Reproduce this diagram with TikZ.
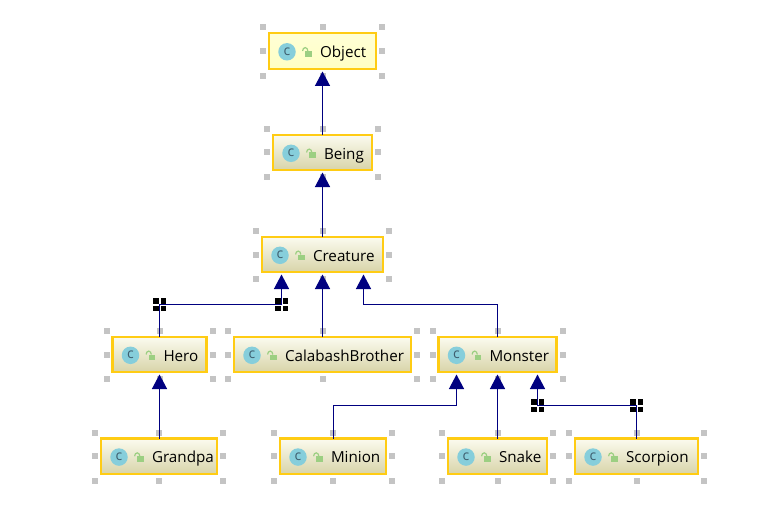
\documentclass[tikz,border=0pt]{standalone}
\usepackage{fontspec}
\setmainfont{Open Sans}
\usetikzlibrary{arrows.meta,calc}
\definecolor{edgeblue}{HTML}{000080}
\definecolor{boxedge}{HTML}{FFCC14}
\definecolor{gripgray}{HTML}{C4C4C4}
\definecolor{ciconfill}{HTML}{86CEDB}
\definecolor{ciconink}{HTML}{3F5F6F}
\definecolor{lockgreen}{HTML}{9CCF82}
\definecolor{umltop}{HTML}{FBFBEF}
\definecolor{umlbot}{HTML}{D8D4A9}
\definecolor{seltop}{HTML}{FFFFD6}
\definecolor{selbot}{HTML}{FFFFC4}
\tikzset{
  x=1pt,y=-1pt,
  plainbox/.style={draw=boxedge,line width=2.6pt,inner sep=0pt,outer sep=0pt,anchor=north west,top color=umltop,bottom color=umlbot},
  selbox/.style={draw=boxedge,line width=2.6pt,inner sep=0pt,outer sep=0pt,anchor=north west,top color=seltop,bottom color=selbot},
  nametext/.style={anchor=base west,inner sep=0pt,font=\fontsize{15.2}{15.2}\selectfont,text=black},
  cicon/.style={circle,fill=ciconfill,minimum size=17.5pt,inner sep=0pt,text=ciconink,font=\fontsize{14}{14}\selectfont},
  inherit/.style={draw=edgeblue,line width=1.3pt,-{Triangle[width=15pt,length=14.5pt,fill=edgeblue]}},
  grip/.style={fill=gripgray},
  blackgrip/.style={fill=black},
}
% name, left, top, right, bottom, text, style
\newcommand{\umlclass}[7]{%
  \fill[grip] (#2-9,#3-9) rectangle ++(6,6);
  \fill[grip] ({(#2+#4)/2-3},#3-9) rectangle ++(6,6);
  \fill[grip] (#4+3,#3-9) rectangle ++(6,6);
  \fill[grip] (#2-9,{(#3+#5)/2-3}) rectangle ++(6,6);
  \fill[grip] (#4+3,{(#3+#5)/2-3}) rectangle ++(6,6);
  \fill[grip] (#2-9,#5+4) rectangle ++(6,6);
  \fill[grip] ({(#2+#4)/2-3},#5+4) rectangle ++(6,6);
  \fill[grip] (#4+3,#5+4) rectangle ++(6,6);
  \node[#7,minimum width=#4-#2 pt,minimum height=#5-#3 pt] (#1) at (#2,#3) {};
  \node[cicon] (#1icon) at (#2+18,{(#3+#5)/2+0.8}) {\raisebox{1pt}{c}};
  \begin{scope}[shift={(#2+38,{(#3+#5)/2+0.5})}]
    \draw[lockgreen,line width=1.2pt] (-4.4,-0.5) arc[start angle=180,end angle=0,x radius=2.6,y radius=-3.4];
    \fill[lockgreen] (-2,-0.5) rectangle (4.6,5.2);
  \end{scope}
  \node[nametext] (#1name) at (#2+50.8,{(#3+#5)/2+6.6}) {#6};
}
% four black grips around a bend
\newcommand{\bendgrips}[1]{%
  \fill[blackgrip] ($(#1)+(-6.5,-6.5)$) rectangle ++(5.5,5.5);
  \fill[blackgrip] ($(#1)+(1,-6.5)$) rectangle ++(5.5,5.5);
  \fill[blackgrip] ($(#1)+(-6.5,1)$) rectangle ++(5.5,5.5);
  \fill[blackgrip] ($(#1)+(1,1)$) rectangle ++(5.5,5.5);
}
\begin{document}
\begin{tikzpicture}
\useasboundingbox[fill=white] (0,0) rectangle (783,505);
\umlclass{object}{269}{33}{376}{69}{Object}{selbox}
\umlclass{being}{273}{135}{372}{170}{Being}{plainbox}
\umlclass{creature}{262}{237}{383}{272}{Creature}{plainbox}
\umlclass{hero}{112.5}{337}{206.5}{372}{Hero}{plainbox}
\umlclass{calabash}{234}{337}{411}{372}{CalabashBrother}{plainbox}
\umlclass{monster}{438.5}{337}{556.5}{372}{Monster}{plainbox}
\umlclass{grandpa}{101}{438.5}{217}{474}{Grandpa}{plainbox}
\umlclass{minion}{280}{438.5}{386}{474}{Minion}{plainbox}
\umlclass{snake}{448}{438.5}{547}{474}{Snake}{plainbox}
\umlclass{scorpion}{575}{438.5}{698}{474}{Scorpion}{plainbox}
% bend points
\coordinate (heroA) at (159.5,304.5);
\coordinate (heroB) at (281.5,304.5);
\coordinate (monA) at (497.5,304.5);
\coordinate (monB) at (363.5,304.5);
\coordinate (minA) at (333.5,405.5);
\coordinate (minB) at (456.5,405.5);
\coordinate (scoA) at (636.5,405.5);
\coordinate (scoB) at (537.5,405.5);
\bendgrips{heroA}
\bendgrips{heroB}
\bendgrips{scoA}
\bendgrips{scoB}
% connectors
\draw[inherit] (being.north) -- ($(object.south)+(0,2.5)$);
\draw[inherit] (creature.north) -- ($(being.south)+(0,2.5)$);
\draw[inherit] (calabash.north) -- ($(creature.south)+(0,2.5)$);
\draw[inherit] (hero.north) -- (heroA) -- (heroB) -- ($(creature.south -| heroB)+(0,2.5)$);
\draw[inherit] (monster.north) -- (monA) -- (monB) -- ($(creature.south -| monB)+(0,2.5)$);
\draw[inherit] (grandpa.north -| hero.south) -- ($(hero.south)+(0,2.5)$);
\draw[inherit] (minion.north -| minA) -- (minA) -- (minB) -- ($(monster.south -| minB)+(0,2.5)$);
\draw[inherit] (snake.north) -- ($(monster.south)+(0,2.5)$);
\draw[inherit] (scorpion.north) -- (scoA) -- (scoB) -- ($(monster.south -| scoB)+(0,2.5)$);
\end{tikzpicture}
\end{document}
